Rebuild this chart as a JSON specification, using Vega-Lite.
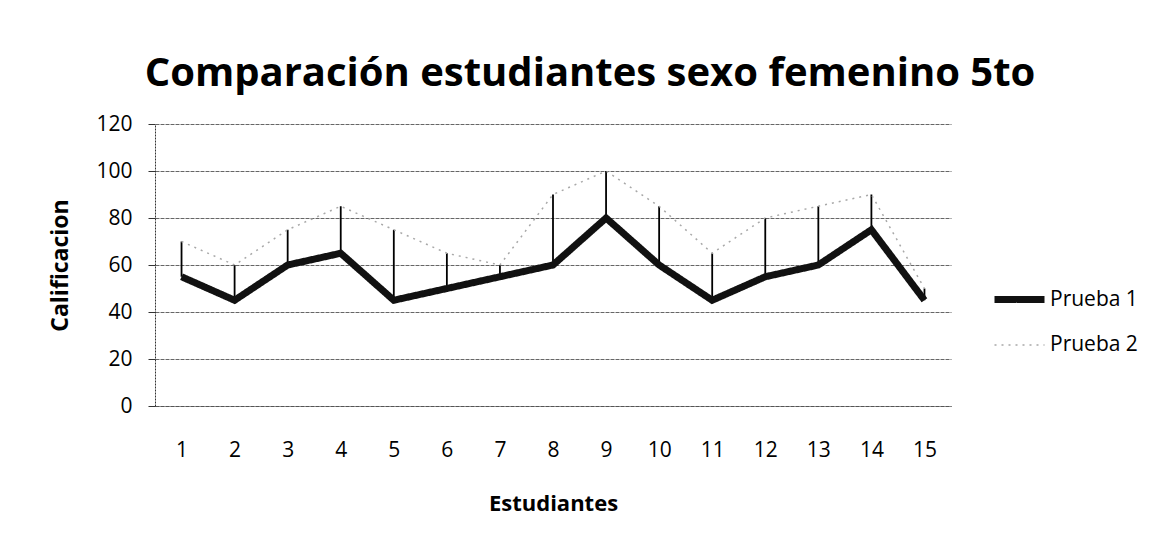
{
  "$schema": "https://vega.github.io/schema/vega-lite/v6.json",
  "width": 796,
  "height": 282,
  "autosize": {"type": "none"},
  "padding": {"left": 155, "top": 124, "right": 224, "bottom": 144},
  "background": "white",
  "title": {
    "text": "Comparación estudiantes sexo femenino 5to",
    "font": "Open Sans",
    "fontSize": 40,
    "fontWeight": "bold",
    "color": "black",
    "anchor": "middle",
    "dx": 37,
    "baseline": "alphabetic",
    "offset": -13
  },
  "data": {
    "values": [
      {"Estudiante": 1, "Prueba 1": 55, "Prueba 2": 70},
      {"Estudiante": 2, "Prueba 1": 45, "Prueba 2": 60},
      {"Estudiante": 3, "Prueba 1": 60, "Prueba 2": 75},
      {"Estudiante": 4, "Prueba 1": 65, "Prueba 2": 85},
      {"Estudiante": 5, "Prueba 1": 45, "Prueba 2": 75},
      {"Estudiante": 6, "Prueba 1": 50, "Prueba 2": 65},
      {"Estudiante": 7, "Prueba 1": 55, "Prueba 2": 60},
      {"Estudiante": 8, "Prueba 1": 60, "Prueba 2": 90},
      {"Estudiante": 9, "Prueba 1": 80, "Prueba 2": 100},
      {"Estudiante": 10, "Prueba 1": 60, "Prueba 2": 85},
      {"Estudiante": 11, "Prueba 1": 45, "Prueba 2": 65},
      {"Estudiante": 12, "Prueba 1": 55, "Prueba 2": 80},
      {"Estudiante": 13, "Prueba 1": 60, "Prueba 2": 85},
      {"Estudiante": 14, "Prueba 1": 75, "Prueba 2": 90},
      {"Estudiante": 15, "Prueba 1": 45, "Prueba 2": 50}
    ]
  },
  "encoding": {
    "x": {
      "field": "Estudiante",
      "type": "ordinal",
      "scale": {"type": "point", "padding": 0.5},
      "axis": {
        "title": "Estudiantes",
        "labelAngle": 0,
        "labelFont": "Open Sans",
        "labelFontSize": 21,
        "labelColor": "black",
        "labelPadding": 44,
        "labelBaseline": "middle",
        "ticks": false,
        "tickSize": 0,
        "domainColor": "#555",
        "domainDash": [4, 1],
        "titleFont": "Open Sans",
        "titleFontSize": 22,
        "titleFontWeight": "bold",
        "titleColor": "black",
        "titleX": 398,
        "titleY": 97,
        "titleBaseline": "middle",
        "titleAnchor": "middle"
      }
    }
  },
  "layer": [
    {
      "mark": {"type": "rule", "color": "black", "strokeWidth": 1.8},
      "encoding": {
        "y": {"field": "Prueba 1", "type": "quantitative"},
        "y2": {"field": "Prueba 2"}
      }
    },
    {
      "transform": [{"fold": ["Prueba 1", "Prueba 2"], "as": ["Prueba", "Calificacion"]}],
      "mark": {"type": "line", "strokeJoin": "miter"},
      "encoding": {
        "y": {
          "field": "Calificacion",
          "type": "quantitative",
          "scale": {"domain": [0, 120]},
          "axis": {
            "title": "Calificacion",
            "values": [0, 20, 40, 60, 80, 100, 120],
            "labelFont": "Open Sans",
            "labelFontSize": 21,
            "labelColor": "black",
            "labelPadding": 16,
            "tickSize": 7,
            "tickColor": "#333",
            "domainColor": "#333",
            "domainDash": [2, 1],
            "gridColor": "#666",
            "gridDash": [4, 1],
            "gridWidth": 1,
            "gridOpacity": 1,
            "titleFont": "Open Sans",
            "titleFontSize": 23,
            "titleFontWeight": "bold",
            "titleColor": "black",
            "titleAngle": -90,
            "titleX": -95,
            "titleY": 141,
            "titleBaseline": "middle",
            "titleAnchor": "middle"
          }
        },
        "color": {
          "field": "Prueba",
          "type": "nominal",
          "scale": {"domain": ["Prueba 1", "Prueba 2"], "range": ["#111111", "#a8a8a8"]},
          "legend": {
            "title": null,
            "orient": "none",
            "legendX": 836,
            "legendY": 147,
            "symbolType": "stroke",
            "symbolSize": 2500,
            "labelFont": "Open Sans",
            "labelFontSize": 21,
            "labelColor": "black",
            "labelOffset": 2,
            "rowPadding": 5,
            "padding": 0
          }
        },
        "strokeWidth": {
          "field": "Prueba",
          "type": "nominal",
          "scale": {"domain": ["Prueba 1", "Prueba 2"], "range": [7, 1.5]},
          "legend": {"title": null}
        },
        "strokeDash": {
          "field": "Prueba",
          "type": "nominal",
          "scale": {"domain": ["Prueba 1", "Prueba 2"], "range": [[1, 0], [2, 5]]},
          "legend": {"title": null}
        }
      }
    }
  ],
  "config": {
    "view": {"stroke": null},
    "axis": {"gridCap": "butt"}
  }
}
